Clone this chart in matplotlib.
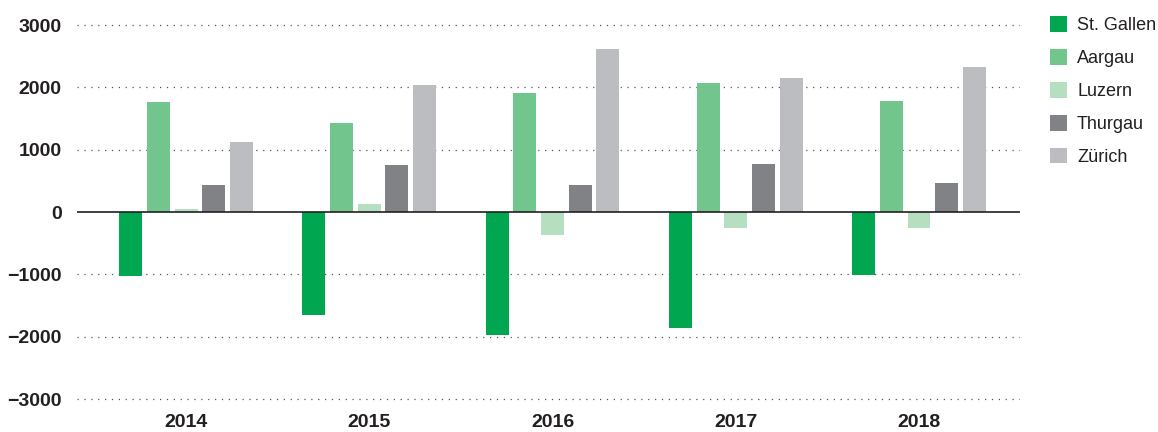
import matplotlib
matplotlib.use('Agg')
import matplotlib.pyplot as plt
import numpy as np
from matplotlib.patches import Patch

plt.rcParams['font.family'] = ['Liberation Sans', 'DejaVu Sans']

years = ['2014', '2015', '2016', '2017', '2018']
cantons = ['St. Gallen', 'Aargau', 'Luzern', 'Thurgau', 'Zürich']
st_gallen = [-1020, -1650, -1970, -1855, -1005]
aargau = [1765, 1430, 1910, 2070, 1780]
luzern = [50, 130, -365, -250, -250]
thurgau = [435, 755, 435, 770, 465]
zuerich = [1125, 2035, 2615, 2150, 2325]
colors = ['#00a650', '#72c58c', '#b6dfc1', '#818285', '#bcbdc0']

series = [st_gallen, aargau, luzern, thurgau, zuerich]

fig = plt.figure(figsize=(11.58, 4.32), dpi=100)
ax = fig.add_axes([0.0665, 0.069, 0.8143, 0.880])

x = np.arange(len(years))
step = 0.151
width = 0.1255
for i, (vals, c) in enumerate(zip(series, colors)):
    ax.bar(x + (i - 2) * step, vals, width, color=c, zorder=3)

ax.set_ylim(-3050, 3050)
ax.set_xlim(-0.595, 4.551)
ax.set_yticks([-3000, -2000, -1000, 0, 1000, 2000, 3000])
ax.set_xticks(x)
ax.set_xticklabels(years)

for yv in [-3000, -2000, -1000, 1000, 2000, 3000]:
    ax.axhline(yv, color='#555555', lw=0.9, ls=(0, (1, 4.5)), zorder=1)
ax.axhline(0, color='#231f20', lw=1.2, zorder=4)

for s in ax.spines.values():
    s.set_visible(False)
ax.tick_params(axis='both', length=0, labelsize=14, colors='#231f20')
ax.tick_params(axis='y', pad=11)
ax.tick_params(axis='x', pad=8.5)
for lbl in ax.get_xticklabels() + ax.get_yticklabels():
    lbl.set_fontweight('bold')

handles = [Patch(facecolor=c, edgecolor='none') for c in colors]
fig.legend(handles, cantons, loc='upper left', bbox_to_anchor=(1050 / 1158, 1 - 16 / 432),
           frameon=False, fontsize=13, handlelength=0.95, handleheight=0.95,
           handletextpad=0.55, labelspacing=0.83, borderpad=0, borderaxespad=0,
           labelcolor='#231f20')

fig.savefig('out.png', dpi=100)
